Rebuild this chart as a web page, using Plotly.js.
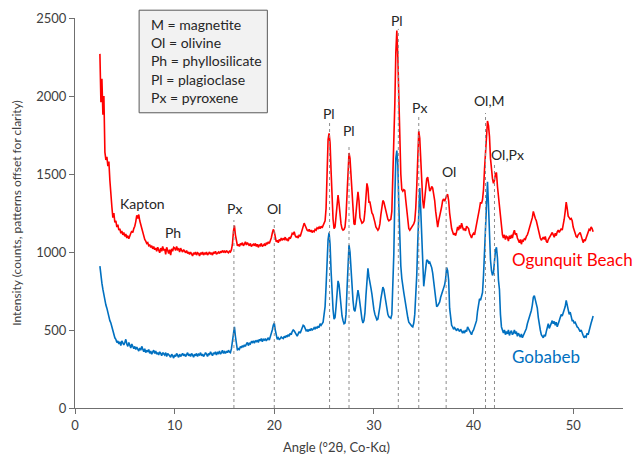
<!DOCTYPE html>
<html>
<head>
<meta charset="utf-8">
<script src="https://cdn.plot.ly/plotly-3.0.1.min.js"></script>
<style>html,body{margin:0;padding:0;background:#fff;}#chart{width:634px;height:458px;}</style>
</head>
<body>
<div id="chart"></div>
<script>
// Angle grid: first angle and step (°2θ)
const angleStart = 2.5;
const angleStep = 0.1;

// Ogunquit Beach (offset pattern), counts from 2.5° to 52.0° every 0.1°
const ogunquitCounts = [
  2270, 1960, 2110, 1880, 2000,
  1640, 1590, 1610, 1550, 1580, 1460, 1330, 1290, 1220, 1250,
  1190, 1200, 1160, 1175, 1140, 1150, 1120, 1135, 1110, 1125,
  1100, 1115, 1090, 1105, 1085, 1110, 1120, 1135, 1125, 1150,
  1165, 1195, 1235, 1215, 1240, 1200, 1175, 1150, 1120, 1110,
  1080, 1070, 1055, 1060, 1040, 1045, 1030, 1040, 1020, 1035,
  1015, 1025, 1005, 1030, 1010, 995, 1025, 1005, 1035, 1010,
  1020, 985, 1030, 1000, 990, 1015, 980, 1020, 1005, 1030,
  1025, 1010, 1035, 1015, 1020, 1000, 1025, 1010, 1000, 1015,
  1005, 995, 1010, 990, 1000, 985, 1000, 990, 975, 995,
  985, 1000, 980, 995, 990, 975, 995, 985, 1000, 980,
  995, 985, 1000, 980, 990, 1000, 985, 995, 980, 1000,
  990, 1005, 985, 995, 1000, 990, 1005, 995, 1010, 1000,
  1005, 995, 1010, 1000, 995, 1005, 1000, 1015, 1050, 1130,
  1170, 1110, 1060, 1040, 1050, 1035, 1055, 1045, 1060, 1040,
  1050, 1065, 1045, 1060, 1050, 1040, 1055, 1035, 1045, 1050,
  1040, 1055, 1035, 1050, 1030, 1045, 1040, 1055, 1035, 1045,
  1050, 1040, 1060, 1050, 1065, 1055, 1070, 1090, 1120, 1145,
  1130, 1085, 1065, 1075, 1060, 1080, 1070, 1090, 1075, 1085,
  1080, 1095, 1075, 1085, 1070, 1095, 1085, 1100, 1120, 1115,
  1130, 1105, 1095, 1100, 1090, 1110, 1100, 1120, 1140, 1165,
  1185, 1170, 1150, 1140, 1135, 1145, 1130, 1140, 1125, 1135,
  1130, 1145, 1140, 1155, 1150, 1160, 1150, 1165, 1155, 1170,
  1185, 1200, 1280, 1500, 1720, 1760, 1700, 1520, 1330, 1210,
  1150, 1160, 1230, 1320, 1365, 1310, 1220, 1180, 1150, 1140,
  1145, 1160, 1230, 1400, 1560, 1635, 1600, 1480, 1340, 1220,
  1180, 1175, 1230, 1320, 1385, 1330, 1220, 1200, 1185, 1190,
  1200, 1260, 1340, 1440, 1410, 1320, 1320, 1280, 1250, 1240,
  1220, 1190, 1160, 1145, 1140, 1150, 1180, 1240, 1300, 1330,
  1320, 1290, 1260, 1230, 1210, 1200, 1205, 1210, 1260, 1450,
  1650, 1950, 2280, 2420, 2250, 1950, 1700, 1500, 1400, 1390,
  1400, 1395, 1330, 1260, 1180, 1150, 1140, 1150, 1160, 1170,
  1180, 1200, 1280, 1420, 1620, 1775, 1730, 1580, 1430, 1330,
  1280, 1340, 1440, 1470, 1480, 1440, 1390, 1400, 1420, 1410,
  1380, 1330, 1260, 1180, 1160, 1200, 1225, 1250, 1290, 1330,
  1340, 1325, 1350, 1360, 1370, 1330, 1250, 1190, 1150, 1130,
  1110, 1120, 1105, 1130, 1160, 1140, 1170, 1150, 1185, 1160,
  1140, 1150, 1135, 1165, 1160, 1150, 1120, 1100, 1090, 1110,
  1120, 1110, 1140, 1170, 1200, 1230, 1280, 1320, 1310, 1335,
  1400, 1530, 1650, 1780, 1840, 1810, 1740, 1600, 1520, 1470,
  1440, 1460, 1500, 1510, 1420, 1350, 1290, 1200, 1140, 1110,
  1090, 1110, 1080, 1100, 1095, 1070, 1105, 1085, 1110, 1090,
  1120, 1140, 1110, 1120, 1090, 1075, 1060, 1080, 1050, 1075,
  1070, 1085, 1080, 1100, 1110, 1130, 1150, 1175, 1200, 1220,
  1260, 1230, 1215, 1200, 1170, 1130, 1110, 1090, 1075, 1085,
  1095, 1080, 1100, 1070, 1060, 1080, 1090, 1100, 1115, 1125,
  1110, 1095, 1120, 1105, 1130, 1140, 1125, 1135, 1150, 1140,
  1170, 1210, 1260, 1320, 1280, 1230, 1220, 1210, 1215, 1200,
  1160, 1130, 1120, 1100, 1095, 1110, 1120, 1125, 1105, 1080,
  1060, 1080, 1070, 1090, 1110, 1130, 1145, 1140, 1160, 1150,
  1130
];

// Gobabeb, counts from 2.5° to 52.0° every 0.1°
const gobabebCounts = [
  910, 840, 800, 760, 720,
  700, 660, 640, 610, 600, 560, 545, 520, 500, 470,
  450, 440, 420, 430, 410, 425, 400, 430, 415, 405,
  420, 440, 410, 395, 420, 400, 385, 410, 395, 380,
  395, 375, 390, 380, 365, 385, 370, 395, 375, 360,
  380, 355, 370, 360, 375, 350, 365, 345, 360, 370,
  350, 365, 345, 355, 340, 360, 350, 335, 355, 345,
  340, 355, 330, 350, 345, 335, 325, 345, 335, 320,
  340, 330, 350, 335, 325, 345, 330, 340, 350, 335,
  345, 330, 340, 355, 335, 345, 330, 350, 340, 325,
  345, 335, 350, 330, 345, 340, 355, 335, 345, 330,
  340, 355, 345, 330, 350, 340, 360, 345, 335, 355,
  345, 360, 340, 355, 350, 365, 345, 355, 370, 350,
  360, 350, 365, 355, 370, 360, 355, 380, 430, 500,
  520, 460, 390, 370, 380, 375, 395, 385, 400, 390,
  405, 395, 410, 420, 400, 415, 410, 425, 420, 430,
  415, 430, 425, 435, 420, 440, 430, 445, 425, 440,
  435, 445, 430, 440, 450, 435, 455, 470, 500, 530,
  545, 500, 460, 440, 450, 440, 445, 455, 450, 445,
  460, 450, 465, 455, 470, 460, 480, 470, 490, 500,
  495, 480, 470, 460, 475, 490, 480, 500, 520, 530,
  525, 510, 495, 500, 490, 505, 495, 510, 500, 505,
  515, 505, 520, 510, 525, 515, 540, 530, 545, 550,
  600, 650, 780, 950, 1080, 1125, 1050, 880, 720, 630,
  570, 580, 650, 750, 815, 790, 720, 640, 590, 560,
  540, 545, 600, 760, 930, 1045, 1000, 880, 770, 690,
  630, 620, 660, 720, 755, 720, 680, 620, 570, 545,
  560, 610, 720, 850, 895, 840, 790, 770, 730, 670,
  630, 600, 575, 565, 570, 600, 650, 700, 750, 775,
  760, 715, 700, 650, 600, 585, 580, 575, 600, 800,
  990, 1350, 1600, 1650, 1560, 1300, 1080, 910, 830, 760,
  740, 700, 650, 610, 580, 550, 540, 530, 525, 520,
  545, 600, 700, 850, 1060, 1300, 1410, 1270, 1080, 950,
  780, 840, 910, 950, 945, 930, 935, 920, 900, 865,
  800, 750, 700, 650, 655, 670, 680, 710, 740, 750,
  770, 790, 830, 900, 880, 820, 640, 560, 530, 520,
  505, 515, 500, 495, 510, 500, 490, 505, 485, 480,
  495, 480, 500, 490, 520, 505, 495, 480, 470, 490,
  500, 520, 545, 560, 620, 680, 700, 690, 720, 740,
  850, 1000, 1200, 1400, 1450, 1300, 1100, 950, 880, 850,
  870, 950, 1010, 1030, 960, 820, 760, 600, 520, 500,
  480, 500, 470, 490, 475, 500, 465, 485, 495, 470,
  480, 500, 475, 490, 460, 480, 470, 455, 475, 450,
  465, 480, 500, 510, 540, 560, 585, 600, 625, 660,
  710, 720, 690, 650, 640, 580, 530, 500, 470, 455,
  450, 470, 460, 490, 520, 540, 510, 530, 545, 560,
  540, 555, 530, 550, 520, 535, 560, 580, 600, 590,
  610, 630, 650, 690, 660, 620, 600, 615, 580, 560,
  560, 545, 550, 530, 520, 515, 505, 490, 500, 475,
  465, 450, 460, 455, 480, 470, 500, 530, 545, 565,
  590
];

// Phase labels with their reference lines
const peakLabels   = ['Px', 'Ol', 'Pl', 'Pl', 'Pl', 'Px', 'Ol', 'Ol,M', 'Ol,Px'];
const peakAngles   = [15.95, 20.0, 25.55, 27.5, 32.45, 34.5, 37.25, 41.2, 42.1];
const peakLineTops = [1205, 1205, 1833, 1686, 2430, 1878, 1442, 1891, 1577];
const labelAngles  = [16.0, 20.0, 25.5, 27.45, 32.3, 34.6, 37.5, 41.6, 43.4];
const labelCounts  = [1282, 1282, 1891, 1776, 2487, 1929, 1513, 1974, 1622];

// Other text labels
const otherLabels = ['Kapton', 'Ph'];
const otherAngles = [6.8, 9.8];
const otherCounts = [1314, 1128];

const seriesNames  = ['Ogunquit Beach', 'Gobabeb'];
const seriesColors = ['#ff0000', '#0070c0'];
const seriesLabelAngles = [43.7, 43.7];
const seriesLabelCounts = [955, 333];

const legendLines = ['M = magnetite', 'Ol = olivine', 'Ph = phyllosilicate', 'Pl = plagioclase', 'Px = pyroxene'];

const xTicks = [0, 10, 20, 30, 40, 50];
const yTicks = [0, 500, 1000, 1500, 2000, 2500];
const xTitle = 'Angle (°2θ, Co-Kα)';
const yTitle = 'Intensity (counts, patterns offset for clarity)';

const angles = ogunquitCounts.map((_, i) => +(angleStart + i * angleStep).toFixed(1));

const FONT = 'Lato, "Open Sans", sans-serif';
const TXT = '#262626';
const AXC = '#404040';

const traces = [ogunquitCounts, gobabebCounts].map((c, k) => ({
  x: angles, y: c, type: 'scatter', mode: 'lines', name: seriesNames[k],
  line: {color: seriesColors[k], width: 1.6}, hoverinfo: 'skip'
}));

const shapes = peakAngles.map((a, i) => ({
  type: 'line', xref: 'x', yref: 'y', x0: a, x1: a, y0: 0, y1: peakLineTops[i],
  line: {color: '#8c8c8c', width: 1, dash: 'dot'}, layer: 'above'
}));
shapes.push({
  type: 'rect', xref: 'paper', yref: 'paper', x0: 0.117, x1: 0.351, y0: 0.757, y1: 1.02,
  fillcolor: '#f2f2f2', line: {color: '#595959', width: 1}, layer: 'above'
});

const annotations = [];
peakLabels.forEach((t, i) => annotations.push({
  x: labelAngles[i], y: labelCounts[i], xref: 'x', yref: 'y', text: t, showarrow: false,
  font: {family: FONT, size: 14, color: TXT}, xanchor: 'center', yanchor: 'middle'
}));
otherLabels.forEach((t, i) => annotations.push({
  x: otherAngles[i], y: otherCounts[i], xref: 'x', yref: 'y', text: t, showarrow: false,
  font: {family: FONT, size: 14, color: TXT}, xanchor: 'center', yanchor: 'middle'
}));
seriesNames.forEach((t, i) => annotations.push({
  x: seriesLabelAngles[i], y: seriesLabelCounts[i], xref: 'x', yref: 'y', text: t, showarrow: false,
  font: {family: FONT, size: 17, color: seriesColors[i]}, xanchor: 'left', yanchor: 'middle'
}));
annotations.push({
  x: 0.135, y: 0.8905, xref: 'paper', yref: 'paper', text: legendLines.join('<br>'),
  showarrow: false, align: 'left', xanchor: 'left', yanchor: 'middle',
  font: {family: FONT, size: 14, color: TXT}
});
// x-axis title, placed as in the reference (slightly left of the plot centre)
annotations.push({
  x: 0.477, y: -0.1, xref: 'paper', yref: 'paper', text: xTitle, showarrow: false,
  xanchor: 'center', yanchor: 'middle', font: {family: FONT, size: 13, color: AXC}
});

const layout = {
  width: 634, height: 458,
  margin: {l: 75, r: 11, t: 18, b: 50},
  paper_bgcolor: '#ffffff', plot_bgcolor: '#ffffff',
  showlegend: false,
  font: {family: FONT, size: 13, color: AXC},
  xaxis: {
    range: [0, 55], tickvals: xTicks, ticktext: xTicks.map(String),
    showline: true, linecolor: '#6f6f6f', linewidth: 1, ticks: 'outside', ticklen: 5, tickcolor: '#6f6f6f',
    showgrid: false, zeroline: false, tickfont: {family: FONT, size: 13, color: AXC}
  },
  yaxis: {
    range: [0, 2500], tickvals: yTicks, ticktext: yTicks.map(String),
    showline: true, linecolor: '#6f6f6f', linewidth: 1, ticks: 'outside', ticklen: 5, tickcolor: '#6f6f6f',
    showgrid: false, zeroline: false, tickfont: {family: FONT, size: 13, color: AXC},
    title: {text: yTitle, font: {family: FONT, size: 12, color: AXC}, standoff: 12}
  },
  shapes: shapes,
  annotations: annotations
};

Plotly.newPlot('chart', traces, layout, {displayModeBar: false, staticPlot: true});
</script>
</body>
</html>
